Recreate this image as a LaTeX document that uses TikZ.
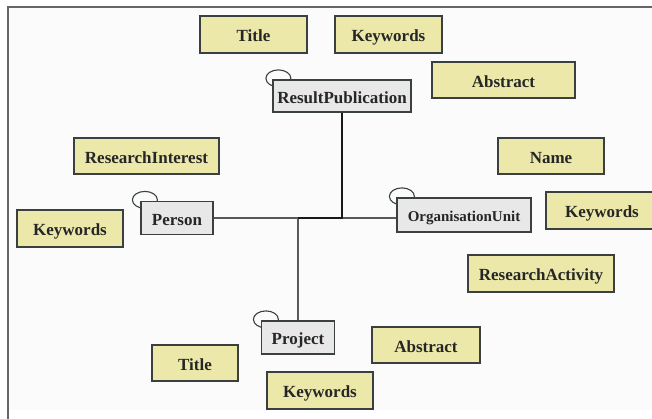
\documentclass[tikz,border=0pt]{standalone}
\usepackage{fontspec}
\setmainfont{Liberation Serif}
\pgfdeclarelayer{bgzero}
\pgfdeclarelayer{background}
\pgfsetlayers{bgzero,background,main}
\definecolor{yfill}{RGB}{235,232,170}
\definecolor{gfill}{RGB}{232,232,232}
\definecolor{edge}{RGB}{58,63,63}
\definecolor{pagebg}{RGB}{251,251,251}
\tikzset{
  box/.style={draw=edge, line width=1.2pt, inner sep=0pt, align=center,
    text height=14.5pt, text depth=0pt,
    font=\fontsize{17}{19}\selectfont\bfseries, text=black!85},
  ybox/.style={box, fill=yfill},
  gbox/.style={box, fill=gfill},
  loopring/.style={draw=edge, line width=1.1pt},
  conn/.style={draw=black!65, line width=1.1pt},
  connd/.style={draw=black!90, line width=1.2pt}
}
\begin{document}
\begin{tikzpicture}[x=1pt,y=-1pt]
\useasboundingbox (0,0) rectangle (652,419);
\begin{pgfonlayer}{bgzero}
\fill[pagebg] (8,7) rectangle (652,410);
\draw[black!60, line width=1.5pt] (8,419) -- (8,7) -- (652,7);
\end{pgfonlayer}
% main entity boxes
\node[gbox, minimum width=138, minimum height=32] (rp) at (342,96) {ResultPublication};
\node[gbox, minimum width=72, minimum height=33] (person) at (177,218) {Person};
\node[gbox, minimum width=134, minimum height=34, font=\fontsize{15}{17}\selectfont\bfseries, text height=13.5pt] (org) at (464,215) {OrganisationUnit};
\node[gbox, minimum width=73, minimum height=33] (proj) at (298,337.5) {Project};
% attribute boxes
\node[ybox, minimum width=107, minimum height=37] (t1) at (253.5,34.5) {Title};
\node[ybox, minimum width=107, minimum height=37] (k1) at (388.5,34.5) {Keywords};
\node[ybox, minimum width=143, minimum height=36] (a1) at (503.5,80) {Abstract};
\node[ybox, minimum width=145, minimum height=36] (ri) at (146.5,156) {ResearchInterest};
\node[ybox, minimum width=106, minimum height=36] (nm) at (551,156) {Name};
\node[ybox, minimum width=112, minimum height=37] (k2) at (602,210.5) {Keywords};
\node[ybox, minimum width=106, minimum height=37] (k3) at (70,228.5) {Keywords};
\node[ybox, minimum width=146, minimum height=37] (ra) at (541,273.5) {ResearchActivity};
\node[ybox, minimum width=108, minimum height=36] (a2) at (426,345) {Abstract};
\node[ybox, minimum width=86, minimum height=36] (t2) at (195,363) {Title};
\node[ybox, minimum width=106, minimum height=37] (k4) at (320,390.5) {Keywords};
% junctions
\coordinate (j1) at (342,218);
\coordinate (j2) at (298,218);
\begin{pgfonlayer}{background}
\draw[loopring] ([shift={(6,-1)}]rp.north west) ellipse [x radius=12.5, y radius=8.5];
\draw[loopring] ([shift={(4.5,-1)}]person.north west) ellipse [x radius=12.5, y radius=8.5];
\draw[loopring] ([shift={(5.5,-1)}]org.north west) ellipse [x radius=12.5, y radius=8.5];
\draw[loopring] ([shift={(5,-1)}]proj.north west) ellipse [x radius=12.5, y radius=8.5];
\draw[conn] (person.east) -- (person.east -| org.west);
\draw[conn] (j2) -- (proj.north);
\draw[connd] (rp.south) -- (j1) -- (j2);
\end{pgfonlayer}
\end{tikzpicture}
\end{document}
